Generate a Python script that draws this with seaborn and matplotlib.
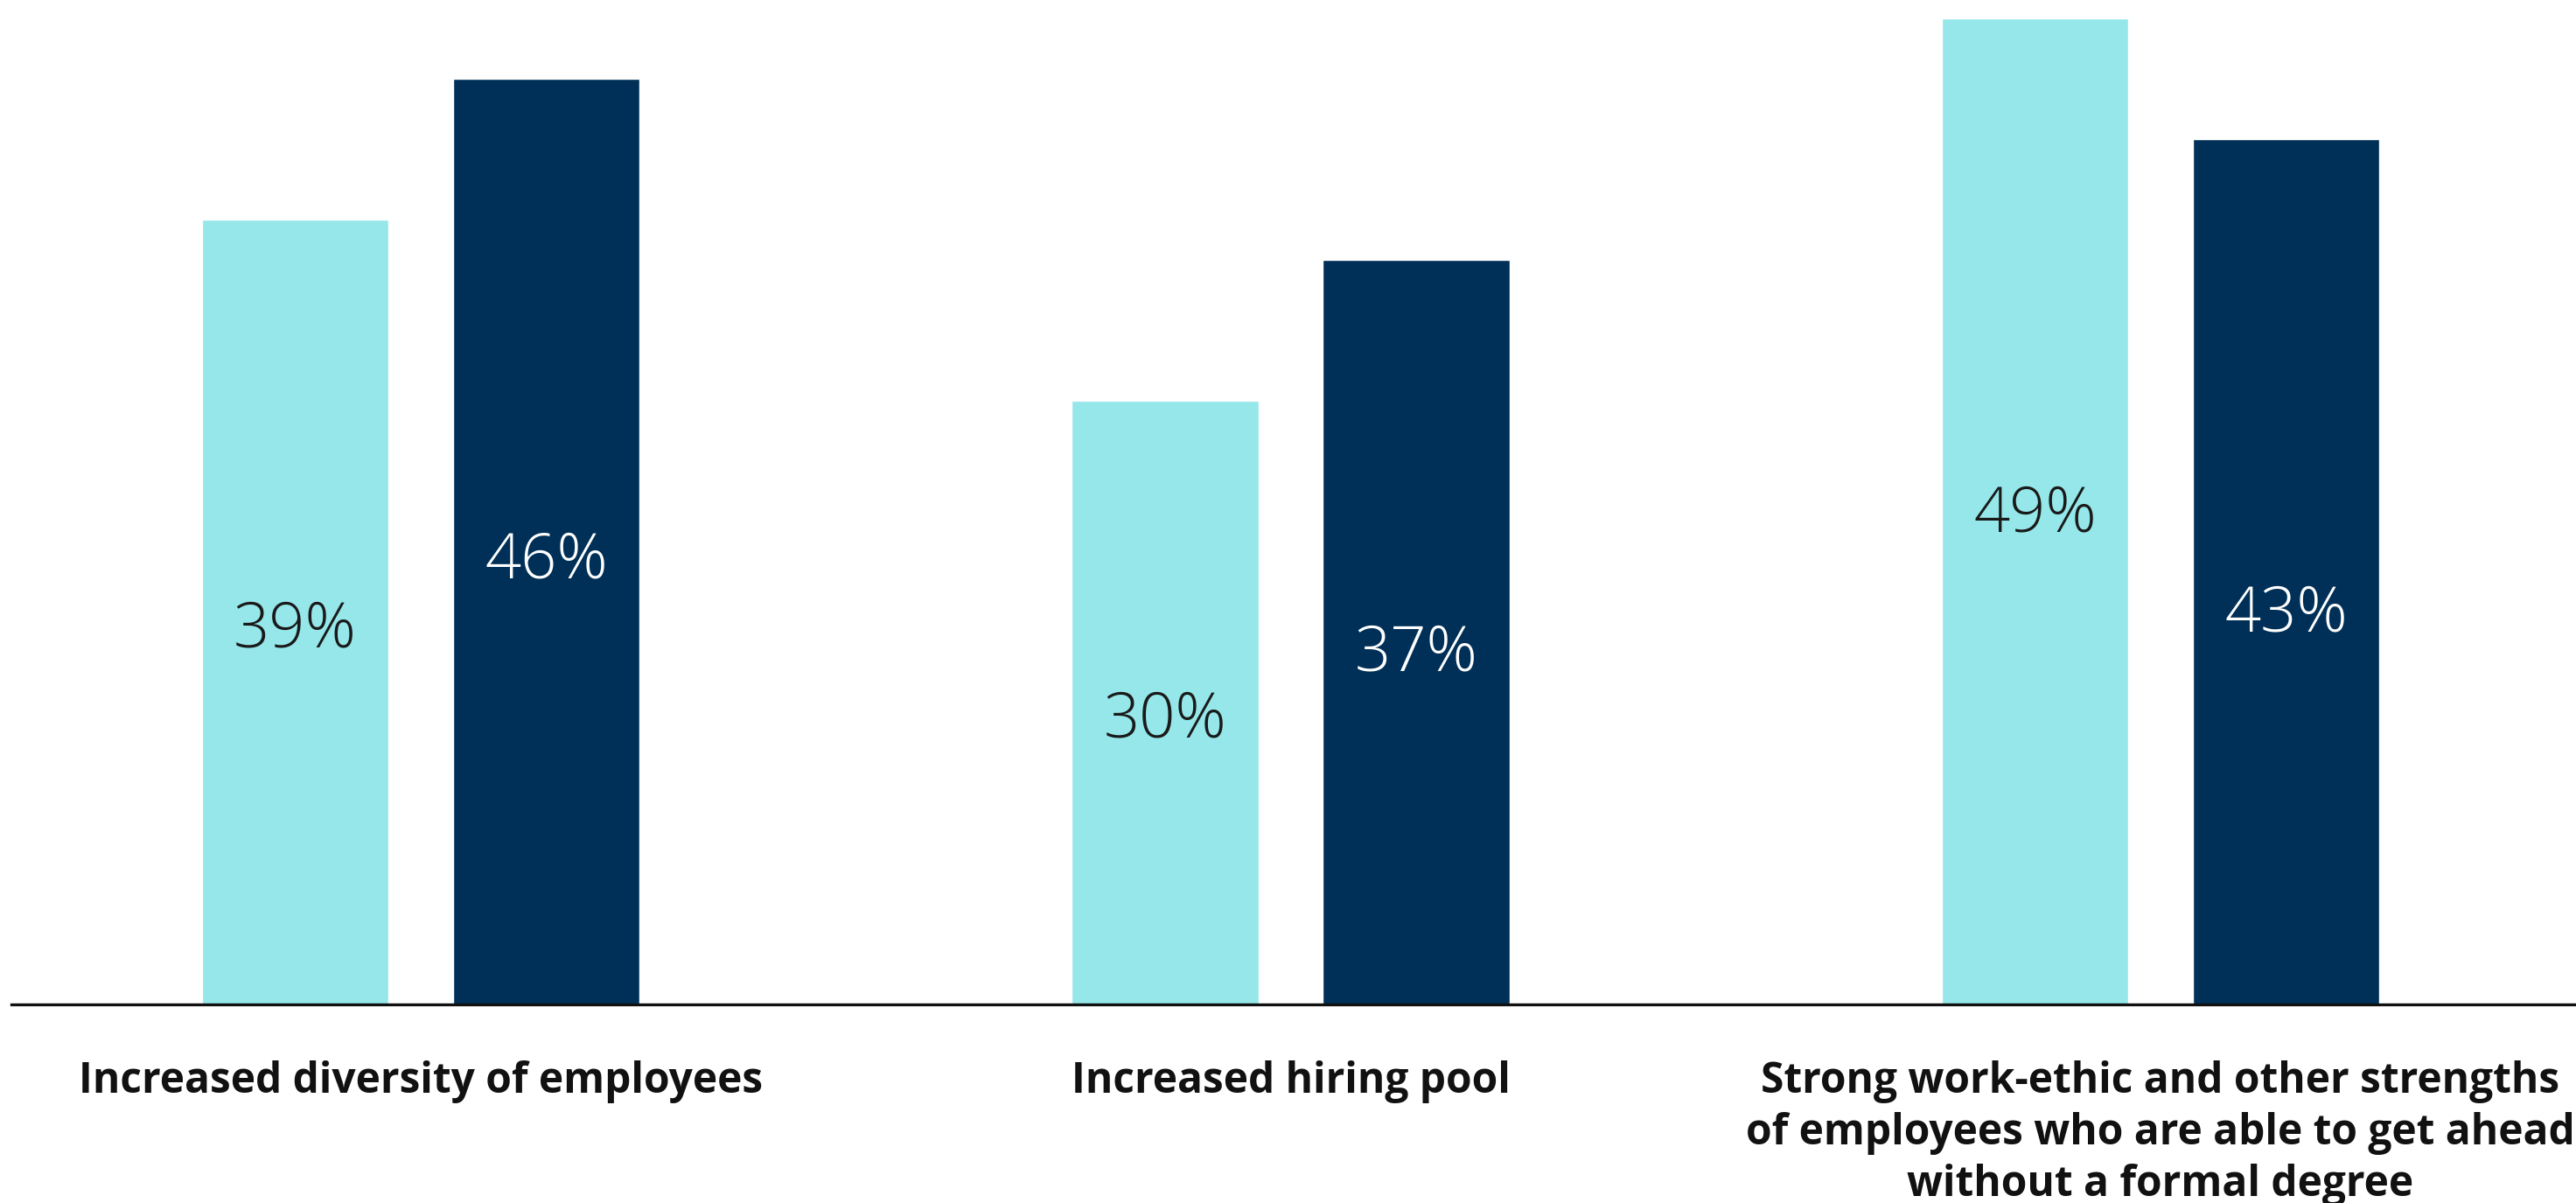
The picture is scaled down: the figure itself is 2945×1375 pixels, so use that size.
import matplotlib
matplotlib.use("Agg")
import matplotlib.pyplot as plt
import seaborn as sns
import pandas as pd

# Chart data
categories = [
    "Increased diversity of employees",
    "Increased hiring pool",
    "Strong work-ethic and other strengths\nof employees who are able to get ahead\nwithout a formal degree",
]
series_names = ["Series A", "Series B"]
series_a = [39, 30, 49]
series_b = [46, 37, 43]

bar_colors = ["#95E7EA", "#003057"]
value_colors = ["#1A1A1A", "#FFFFFF"]
# vertical nudge (points) of each value label from the bar middle, per series
label_nudge = [[-15, -15, -3], [-16, -18, -35]]

df = pd.DataFrame({
    "category": categories * 2,
    "series": [series_names[0]] * 3 + [series_names[1]] * 3,
    "value": series_a + series_b,
})

sns.set_style("white")
plt.rcParams["font.family"] = ["Open Sans", "DejaVu Sans"]

W, H = 2945, 1375
fig = plt.figure(figsize=(W / 100, H / 100), dpi=100)
ax = fig.add_axes([13 / W, 227 / H, 1 - 13 / W, 1148 / H])

sns.barplot(
    data=df, x="category", y="value", hue="series",
    order=categories, hue_order=series_names,
    palette=bar_colors, saturation=1, width=0.577, gap=0.255,
    legend=False, ax=ax,
)

ax.set_xlim(-0.4706, 2.4776)
ax.set_ylim(0, 49.91)

for side in ["top", "left", "right"]:
    ax.spines[side].set_visible(False)
ax.spines["bottom"].set_color("#111111")
ax.spines["bottom"].set_linewidth(2.4)

ax.set_yticks([])
ax.set_xlabel("")
ax.set_ylabel("")
ax.tick_params(axis="x", length=0, pad=46)
ax.set_xticks(range(len(categories)))
ax.set_xticklabels(categories, fontsize=34.5, fontweight="bold",
                   color="#111111", linespacing=1.27)

# Value labels inside each bar
for container, tc, nudges in zip(ax.containers, value_colors, label_nudge):
    for bar, dy in zip(container, nudges):
        h = bar.get_height()
        ax.annotate(
            f"{h:.0f}%",
            (bar.get_x() + bar.get_width() / 2, h / 2),
            xytext=(0, dy), textcoords="offset points",
            ha="center", va="center", fontsize=52, fontweight="light",
            color=tc,
        )

fig.savefig("out.png", dpi=100, facecolor="white")
